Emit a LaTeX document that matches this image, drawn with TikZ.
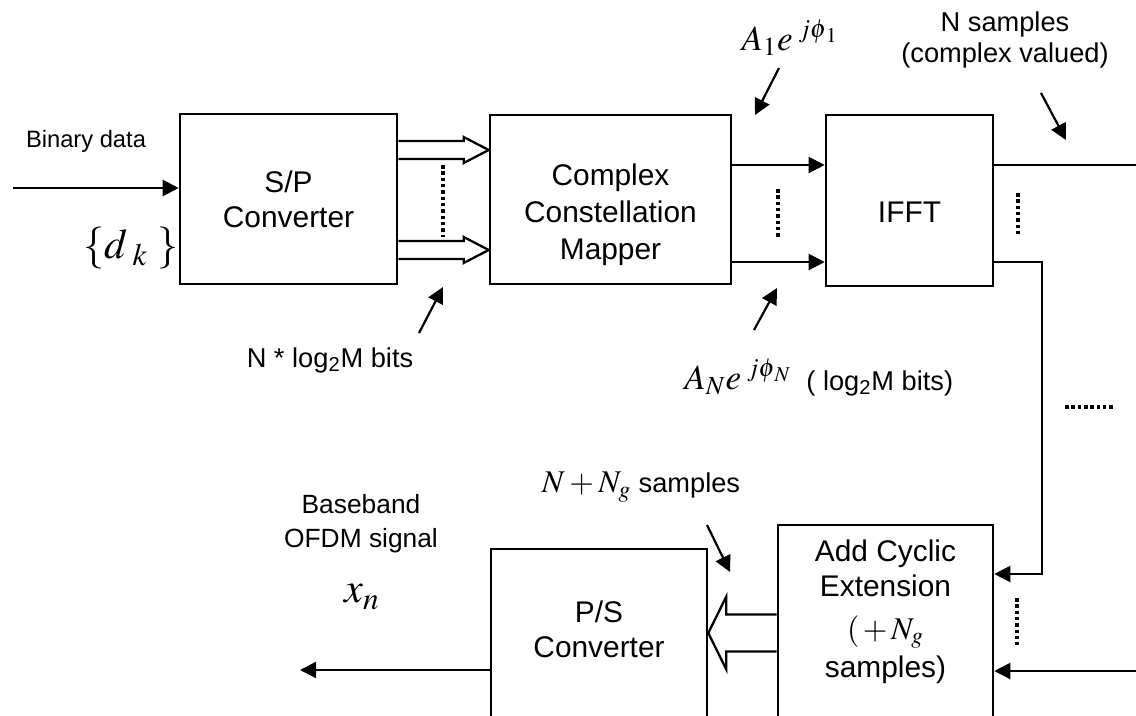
\documentclass[tikz,border=0pt]{standalone}
\usepackage{mathptmx}
\usepackage[no-math]{fontspec}
\setmainfont{Liberation Sans}
\usetikzlibrary{arrows.meta,calc,positioning}

\tikzset{
  blk/.style={draw, line width=1.5pt, inner sep=0pt},
  boxtxt/.style={align=center, font=\fontsize{17}{20}\selectfont, inner sep=0pt},
  lbl/.style={align=center, font=\fontsize{15.5}{18}\selectfont, inner sep=0pt},
  mth/.style={font=\fontsize{20}{24}\selectfont, inner sep=0pt},
  arr/.style={line width=1.25pt, -{Triangle[length=0.32cm, width=0.32cm]}},
  fat/.style={line width=1.3pt, line join=miter},
  dots/.style={line width=2.4pt, dash pattern=on 2pt off 1.6pt},
}

% hollow wide arrow: tail, tip, half shaft, half head, head length
\newcommand{\fatarrow}[5]{%
  \coordinate (fa-base) at ($(#2)!#5!(#1)$);
  \draw[fat] ($(#1)!#3!90:(#2)$) -- ($(fa-base)!#3!-90:(#1)$) -- ($(fa-base)!#4!-90:(#1)$)
    -- (#2) -- ($(fa-base)!#4!90:(#1)$) -- ($(fa-base)!#3!90:(#1)$) -- ($(#1)!#3!-90:(#2)$);
}

\begin{document}
\begin{tikzpicture}[x=0.02cm, y=-0.02cm]
\useasboundingbox (0,0) rectangle (1136,716);
\clip (0,0) rectangle (1136,716);

% blocks
\node[blk, boxtxt, minimum width=4.34cm, minimum height=3.4cm] (sp) at (288.5,199) {S/P\\Converter};
\node[blk, minimum width=4.82cm, minimum height=3.38cm] (map) at (610.5,199.5) {};
\node[blk, minimum width=3.34cm, minimum height=3.42cm] (ifft) at (909.5,200.5) {};
\node[blk, minimum width=4.3cm, minimum height=4.7cm] (cyc) at (885.5,642.5) {};
\node[blk, minimum width=4.32cm, minimum height=4.22cm] (ps) at (599,654.5) {};

\node[boxtxt] (maptxt) at (610.5,215) {Complex\\[1pt]Constellation\\[1pt]Mapper};
\node[boxtxt] (iffttxt) at (909.5,212) {IFFT};
\node[boxtxt] (cyctxt) at (885.5,612) {Add Cyclic\\Extension\\[4pt]{\fontsize{18}{20}\selectfont$(\,+\,N_{g}$}\\[2pt]samples)};
\node[boxtxt] (pstxt) at (599,629) {P/S\\Converter};

% input
\coordinate (din) at (13,188);
\draw[arr] (din) -- (din -| sp.west);
\node[lbl, font=\fontsize{13.5}{16}\selectfont] (bin) at (86,141) {Binary data};
\node[font=\fontsize{24}{28}\selectfont, inner sep=0pt] (dk) at (131,248) {$\{d_{\;k}\;\}$};

% S/P -> mapper
\foreach \yy [count=\i] in {150,250} {
  \coordinate (w\i) at (0,\yy);
  \fatarrow{sp.east |- w\i}{map.west |- w\i}{0.18cm}{0.26cm}{0.5cm}
}
\draw[dots] (443,165) -- (443,237);

% mapper -> IFFT
\coordinate (r1) at (0,165);
\coordinate (r2) at (0,262);
\draw[arr] (map.east |- r1) -- (ifft.west |- r1);
\draw[arr] (map.east |- r2) -- (ifft.west |- r2);
\draw[dots] (778,189) -- (778,237);

% IFFT outputs
\coordinate (out1) at (1136,165);
\draw[line width=1.25pt] (ifft.east |- r1) -- (out1);
\coordinate (bend) at (1042,262);
\coordinate (r3) at (0,574);
\draw[arr] (ifft.east |- r2) -- (bend) |- (cyc.east |- r3);
\coordinate (din2) at (1136,671);
\draw[arr] (din2) -- (din2 -| cyc.east);
\draw[dots] (1018,193) -- (1018,237);
\draw[dots] (1065,407) -- (1113,407);
\draw[dots] (1017,598) -- (1017,645);

% cyclic extension -> P/S -> output
\coordinate (r4) at (0,633);
\fatarrow{cyc.west |- r4}{ps.east |- r4}{0.37cm}{0.73cm}{0.36cm}
\coordinate (xout) at (300,670);
\draw[arr] (ps.west |- xout) -- (xout);

% labels and pointers
\node[lbl] (nlog) at (330,360) {N * log\textsubscript{2}M bits};
\coordinate (nlfrom) at (419,333);
\coordinate (nlto) at (443,287);
\draw[arr] (nlfrom) -- (nlto);

\node[mth] (a1) at (790,38) {$A_1 e^{\;j\phi_{\mkern2mu 1}}$};
\coordinate (a1from) at (779,68);
\coordinate (a1to) at (755,115);
\draw[arr] (a1from) -- (a1to);

\node[mth] (aN) at (738,377) {$A_N e^{\;j\phi_{\mkern2mu N}}$};
\node[lbl, right=0.28cm of aN.east, anchor=west, yshift=-0.12cm] (aNbits) {( log\textsubscript{2}M bits)};
\coordinate (aNfrom) at (754,330);
\coordinate (aNto) at (777,288);
\draw[arr] (aNfrom) -- (aNto);

\node[lbl] (nsamp) at (1005,40) {N samples\\(complex valued)};
\coordinate (nsfrom) at (1041,93);
\coordinate (nsto) at (1066,140);
\draw[arr] (nsfrom) -- (nsto);

\node[lbl] (ngsamp) at (641,487) {{\fontsize{18}{20}\selectfont$N+N_{g}$} samples};
\coordinate (ngfrom) at (707,525);
\coordinate (ngto) at (730,572);
\draw[arr] (ngfrom) -- (ngto);

\node[lbl, font=\fontsize{15}{19.3}\selectfont] (bb) at (361,524) {Baseband\\OFDM signal};
\node[font=\fontsize{24}{28}\selectfont, inner sep=0pt] (xn) at (362,597) {$x_{n}$};
\end{tikzpicture}
\end{document}
